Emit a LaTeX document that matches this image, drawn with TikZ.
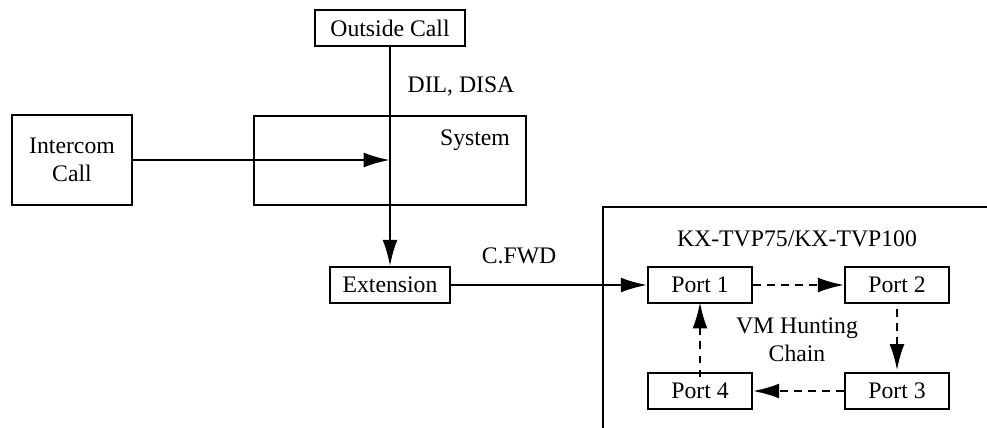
\documentclass[tikz,border=0pt]{standalone}
\usepackage{fontspec}
\setmainfont{Liberation Serif}
\usetikzlibrary{arrows.meta,positioning}

\begin{document}
\begin{tikzpicture}[
  x=0.02cm, y=-0.02cm,
  font=\fontsize{13.5}{16}\selectfont,
  box/.style={draw, line width=0.9pt, minimum height=0.72cm, inner sep=2pt, align=center},
  port/.style={box, minimum width=2.08cm},
  flow/.style={-{Latex[length=15pt, width=8.5pt]}, line width=1.4pt},
  hunt/.style={flow, dash pattern=on 4.5pt off 3.5pt},
  note/.style={align=center}
]
  \useasboundingbox (0,0) rectangle (987,427);

  % voice mail unit (cut off at the edges)
  \draw[line width=0.9pt] (603,428) -- (603,207) -- (988,207);
  \node[note] (unit) at (797,239) {KX-TVP75/KX-TVP100};

  % system
  \draw[line width=0.9pt] (254,116) rectangle (526,205);
  \node[note] (system) at (475,140) {System};

  \node[box, minimum width=3cm] (outside) at (390,28) {Outside Call};
  \node[box, minimum width=2.4cm, minimum height=1.8cm] (intercom) at (72,160) {Intercom\\Call};
  \node[box, minimum width=2.4cm] (ext) at (390,285) {Extension};
  \coordinate (join) at (390,160);

  \node[port] (p1) at (700,285) {Port 1};
  \node[port] (p2) at (897,285) {Port 2};
  \node[port] (p3) at (897,391) {Port 3};
  \node[port] (p4) at (700,391) {Port 4};
  \node[note] (chain) at (797,340) {VM Hunting\\Chain};

  \draw[flow] (outside.south) -- node[pos=0.18, right=6pt] {DIL, DISA} (ext.north);
  \draw[flow] (intercom.east) -- (join);
  \draw[flow] (ext.east) -- node[above=8pt, xshift=-17pt] {C.FWD} (p1.west);

  \draw[hunt] (p1.east) -- (p2.west);
  \draw[hunt] ([yshift=-3pt]p2.south) -- ([yshift=1pt]p3.north);
  \draw[hunt] (p3.west) -- (p4.east);
  \draw[hunt] ([yshift=-3pt]p4.north) -- ([yshift=1pt]p1.south);
\end{tikzpicture}
\end{document}
